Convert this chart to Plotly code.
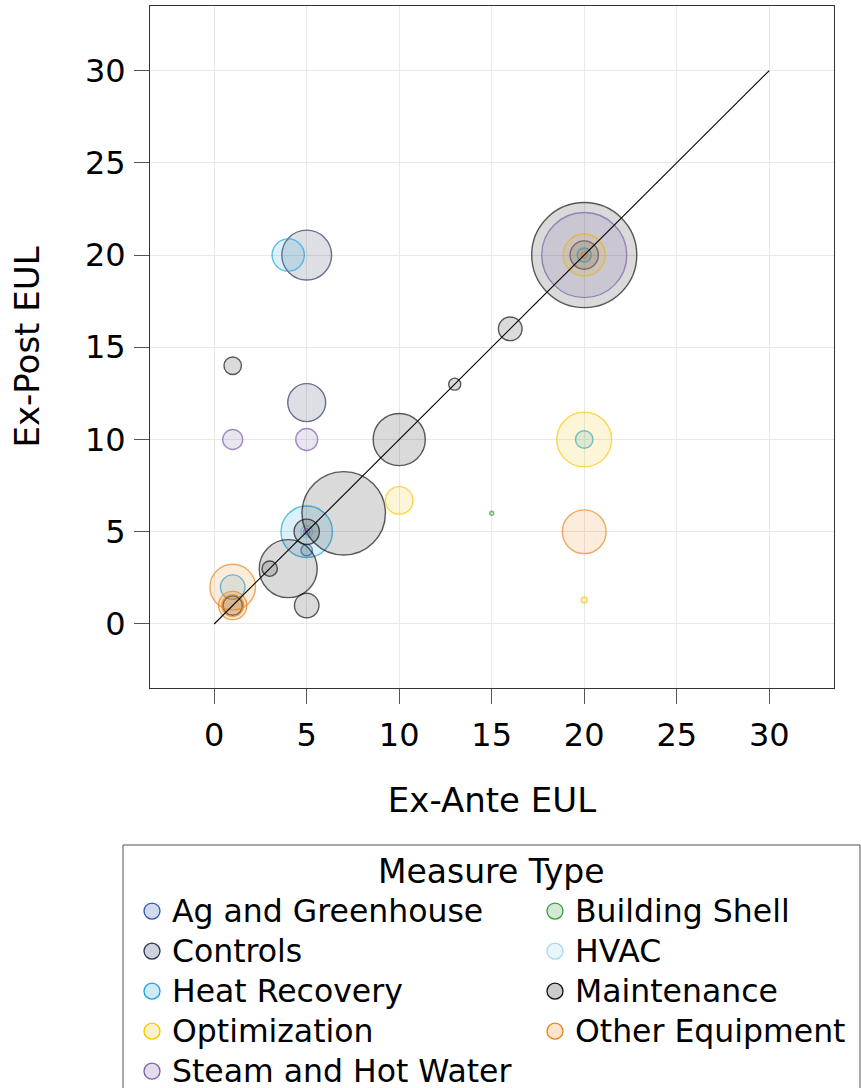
import plotly.graph_objects as go

# ---- data ----
categories = ["Ag and Greenhouse", "Building Shell", "Controls", "HVAC",
              "Heat Recovery", "Maintenance", "Optimization",
              "Other Equipment", "Steam and Hot Water"]

ex_ante = {
    "Ag and Greenhouse": [5],
    "Building Shell": [15],
    "Controls": [5, 5, 20],
    "HVAC": [5],
    "Heat Recovery": [4, 5, 1, 20, 20],
    "Maintenance": [20, 7, 10, 4, 5, 5, 16, 1, 3, 1, 13],
    "Optimization": [20, 20, 10, 20],
    "Other Equipment": [1, 1, 1, 20, 20],
    "Steam and Hot Water": [20, 1, 5, 5],
}
ex_post = {
    "Ag and Greenhouse": [4],
    "Building Shell": [6],
    "Controls": [20, 12, 20],
    "HVAC": [5],
    "Heat Recovery": [20, 5, 2, 20, 10],
    "Maintenance": [20, 6, 10, 3, 5, 1, 16, 14, 3, 1, 13],
    "Optimization": [10, 20, 6.7, 1.3],
    "Other Equipment": [2, 1, 1, 5, 20],
    "Steam and Hot Water": [20, 10, 10, 5],
}
# relative savings (bubble area)
savings = {
    "Ag and Greenhouse": [3.2],
    "Building Shell": [0.4],
    "Controls": [62, 36, 20],
    "HVAC": [3.6],
    "Heat Recovery": [26, 66, 15, 4.9, 7.6],
    "Maintenance": [276, 174, 68, 84, 16, 15, 14, 7.6, 5.9, 9.4, 3.6],
    "Optimization": [75, 44, 19, 0.9],
    "Other Equipment": [52, 20, 12, 48, 0.9],
    "Steam and Hot Water": [181, 10, 12, 0.9],
}

edge_colors = {
    "Ag and Greenhouse": "#2c5aa8",
    "Building Shell": "#3a9b3a",
    "Controls": "#27335a",
    "HVAC": "#a5d8ef",
    "Heat Recovery": "#1aa3d9",
    "Maintenance": "#111111",
    "Optimization": "#f7c600",
    "Other Equipment": "#e8841a",
    "Steam and Hot Water": "#7b5ea7",
}

ticks = [0, 5, 10, 15, 20, 25, 30]
diag = [0, 30]


def rgba(hexc, a):
    h = hexc.lstrip("#")
    r, g, b = int(h[0:2], 16), int(h[2:4], 16), int(h[4:6], 16)
    return f"rgba({r},{g},{b},{a})"


FONT = "DejaVu Sans"
fig = go.Figure()

# data bubbles
for cat in categories:
    col = edge_colors[cat]
    fig.add_trace(go.Scatter(
        x=ex_ante[cat], y=ex_post[cat], mode="markers", name=cat,
        legendgroup=cat, showlegend=False,
        marker=dict(size=savings[cat], sizemode="area", sizeref=1 / 20,
                    color=rgba(col, 0.22),
                    line=dict(color=col, width=1.4)),
    ))

# legend keys (two columns, filled row-wise)
for i, cat in enumerate(categories):
    col = edge_colors[cat]
    fig.add_trace(go.Scatter(
        x=[None], y=[None], mode="markers",
        name=f'<span style="font-size:31.5px">{cat}</span>', legendgroup=cat,
        legend="legend" if i % 2 == 0 else "legend2", hoverinfo="skip",
        marker=dict(size=19, color=rgba(col, 0.22),
                    line=dict(color=col, width=1.3)),
    ))

fig.add_trace(go.Scatter(x=diag, y=diag, mode="lines", showlegend=False,
                         line=dict(color="black", width=1.1), hoverinfo="skip"))

axis_common = dict(
    range=[-3.47, 33.5], tickvals=ticks, ticktext=[str(t) for t in ticks],
    showgrid=True, gridcolor="#e8e8e8", gridwidth=1, zeroline=False,
    showline=True, linecolor="#333333", linewidth=1, mirror=True,
    ticks="outside", ticklen=15, tickcolor="#555555", tickwidth=1,
    tickfont=dict(family=FONT, size=32, color="black"),
)

PW, PH, L, T = 684, 682, 150, 6


def px_x(p):
    return (p - L) / PW


def px_y(p):
    return (T + PH - p) / PH


leg_common = dict(
    orientation="v", xanchor="left", yanchor="top", y=px_y(886),
    borderwidth=0, bgcolor="rgba(0,0,0,0)",
    font=dict(family=FONT, size=28.5), traceorder="normal",
    itemsizing="trace",
)

fig.update_layout(
    width=861, height=1088,
    margin=dict(l=L, r=861 - L - PW, t=T, b=1088 - T - PH, autoexpand=False),
    paper_bgcolor="white", plot_bgcolor="white",
    font=dict(family=FONT, color="black"),
    xaxis=dict(**axis_common, ticklabelstandoff=4,
               title=dict(text="Ex-Ante EUL", standoff=34,
                          font=dict(family=FONT, size=34))),
    yaxis=dict(**axis_common, ticklabelstandoff=2,
               title=dict(text="Ex-Post EUL", standoff=34,
                          font=dict(family=FONT, size=34))),
    showlegend=True,
    legend=dict(**leg_common, x=px_x(132)),
    legend2=dict(**leg_common, x=px_x(535)),
    shapes=[dict(type="rect", xref="paper", yref="paper",
                 x0=px_x(123), x1=px_x(860), y0=px_y(845), y1=px_y(1110),
                 line=dict(color="#555555", width=1), fillcolor="rgba(0,0,0,0)",
                 layer="below")],
    annotations=[dict(text="Measure Type", xref="paper", yref="paper",
                      x=px_x(491.5), y=px_y(871), xanchor="center",
                      yanchor="middle", showarrow=False,
                      font=dict(family=FONT, size=33, color="black"))],
)

fig.write_html("out.html", config={"displayModeBar": False},
               post_script="document.body.style.margin='0px';")
